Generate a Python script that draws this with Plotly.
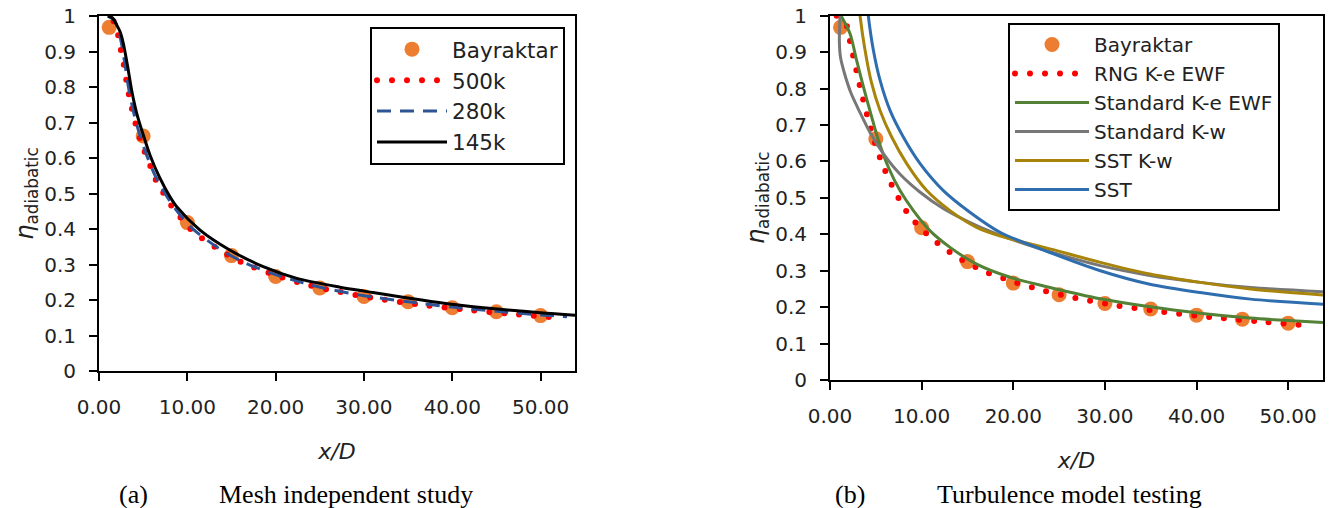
import plotly.graph_objects as go

# ---------------- panel (a): mesh independence ----------------
bay_x = [1.15, 5, 10, 15, 20, 25, 30, 35, 40, 45, 50]
bay_y = [0.968, 0.662, 0.418, 0.325, 0.266, 0.234, 0.21, 0.195, 0.178, 0.167, 0.156]

m500_x = [0.7, 1.4, 2.0, 2.26, 2.68, 3.25, 3.62, 4.0, 4.45, 5.02, 5.7, 6.34, 7.2, 8.12,
          10.4, 13.25, 16.27, 19.6, 22.95, 26.2, 31.4, 36.4, 41.4, 46.5, 52.5]
m500_y = [1.02, 0.995, 0.97, 0.928, 0.881, 0.796, 0.751, 0.71, 0.67, 0.627, 0.585, 0.543, 0.505, 0.468,
          0.399, 0.347, 0.305, 0.273, 0.247, 0.228, 0.204, 0.187, 0.173, 0.1615, 0.149]

m280_x = [1.0, 1.8, 2.4, 2.9, 3.4, 4.1, 5.1, 6.4, 8.2, 10.5, 13.3, 16.3, 19.6, 23.0, 26.2,
          30, 35, 40, 45, 50, 53]
m280_y = [1.0, 0.985, 0.94, 0.87, 0.79, 0.71, 0.628, 0.548, 0.472, 0.403, 0.35, 0.307, 0.275, 0.249, 0.23,
          0.212, 0.195, 0.18, 0.168, 0.158, 0.153]

m145_x = [1.0, 1.5, 2.0, 2.4, 2.75, 3.25, 3.7, 4.27, 4.95, 5.78, 6.83, 8.04, 8.8, 11.44, 14.8,
          18.6, 22.4, 27.3, 30, 39.9, 50, 53.9]
m145_y = [1.0, 0.995, 0.975, 0.955, 0.923, 0.857, 0.79, 0.726, 0.67, 0.608, 0.547, 0.491, 0.463, 0.397, 0.341,
          0.294, 0.261, 0.236, 0.225, 0.188, 0.164, 0.157]

# ---------------- panel (b): turbulence models ----------------
rng_x = [0.73, 1.3, 1.8, 2.2, 3.3, 4.55, 5.6, 7.0, 8.7, 11.1, 13.8, 16.7, 20.0, 23.2, 26.4,
         31.4, 36.4, 41.4, 46.5, 51.5]
rng_y = [1.0, 0.99, 0.974, 0.928, 0.803, 0.681, 0.600, 0.522, 0.450, 0.389, 0.339, 0.300, 0.270, 0.246, 0.227,
         0.204, 0.187, 0.173, 0.1615, 0.1505]

ske_x = [1.2, 2.18, 2.9, 3.64, 4.55, 5.28, 6.37, 7.64, 9.1, 10.9, 13.1, 16.0, 19.65, 24.0, 29.5,
         34.9, 40.4, 45.85, 50, 53.8]
ske_y = [1.0, 0.951, 0.878, 0.805, 0.722, 0.658, 0.584, 0.52, 0.465, 0.41, 0.364, 0.318, 0.282, 0.254, 0.223,
         0.201, 0.1835, 0.170, 0.163, 0.158]

skw_x = [1.1, 1.02, 1.15, 1.6, 2.3, 3.3, 4.4, 5.8, 7.6, 9.8, 12.4, 16.0, 19.6, 24.0, 29.5,
         34.9, 40.4, 45.9, 53.8]
skw_y = [1.0, 0.93, 0.885, 0.84, 0.787, 0.733, 0.678, 0.622, 0.566, 0.516, 0.47, 0.424, 0.388, 0.352, 0.314,
         0.287, 0.268, 0.254, 0.242]

sstkw_x = [3.1, 3.28, 3.82, 4.55, 5.46, 6.73, 8.37, 10.56, 13.1, 16.0, 18.6, 24.0, 29.5, 34.9, 40.4, 45.9, 53.8]
sstkw_y = [1.05, 1.0, 0.906, 0.814, 0.74, 0.667, 0.594, 0.52, 0.465, 0.419, 0.395, 0.36, 0.323, 0.291, 0.268,
           0.25, 0.233]

sst_x = [4.0, 4.18, 4.73, 5.46, 6.55, 8.0, 9.83, 12.37, 15.3, 18.6, 24.0, 29.5, 34.9, 40.4, 45.9, 53.8]
sst_y = [1.05, 1.0, 0.906, 0.823, 0.74, 0.667, 0.594, 0.52, 0.46, 0.405, 0.35, 0.30, 0.263, 0.24, 0.222, 0.208]

x_ticks = [0, 10, 20, 30, 40, 50]
y_ticks = [0, 0.1, 0.2, 0.3, 0.4, 0.5, 0.6, 0.7, 0.8, 0.9, 1.0]
y_labels = ["0", "0.1", "0.2", "0.3", "0.4", "0.5", "0.6", "0.7", "0.8", "0.9", "1"]

# ---------------- styling ----------------
W, H = 1329, 508
ORANGE = "#ED7D31"
RED = "#FF0000"
DKBLUE = "#2F5496"
GREEN = "#538135"
GRAY = "#777777"
GOLD = "#A8850A"
BLUE = "#2E6DAE"
FONT = "DejaVu Sans"
TXT = "#222222"
DOTS = "0px,15px"

fig = go.Figure()

def add(x, y, name, color, width, dash, xa, ya, legend, smooth=0.8):
    fig.add_trace(go.Scatter(x=x, y=y, name=name, mode="lines",
                             line=dict(color=color, width=width, dash=dash, shape="spline", smoothing=smooth),
                             xaxis=xa, yaxis=ya, legend=legend))

# panel a
fig.add_trace(go.Scatter(x=bay_x, y=bay_y, name="Bayraktar", mode="markers",
                         marker=dict(color=ORANGE, size=15), xaxis="x", yaxis="y", legend="legend"))
add(m500_x, m500_y, "500k", RED, 6, DOTS, "x", "y", "legend")
add(m280_x, m280_y, "280k", DKBLUE, 3, "14px,9px", "x", "y", "legend")
add(m145_x, m145_y, "145k", "black", 3, "solid", "x", "y", "legend")

# panel b
fig.add_trace(go.Scatter(x=bay_x, y=bay_y, name="Bayraktar", mode="markers",
                         marker=dict(color=ORANGE, size=15), xaxis="x2", yaxis="y2", legend="legend2"))
add(rng_x, rng_y, "RNG K-e EWF", RED, 6, DOTS, "x2", "y2", "legend2")
add(ske_x, ske_y, "Standard K-e EWF", GREEN, 3, "solid", "x2", "y2", "legend2")
add(skw_x, skw_y, "Standard K-w", GRAY, 3, "solid", "x2", "y2", "legend2")
add(sstkw_x, sstkw_y, "SST K-w", GOLD, 3, "solid", "x2", "y2", "legend2")
add(sst_x, sst_y, "SST", BLUE, 3, "solid", "x2", "y2", "legend2")

def xaxis(domain, rng, anchor):
    return dict(domain=domain, range=rng, anchor=anchor, tickvals=x_ticks, tickformat=".2f",
                showline=True, linecolor="black", linewidth=2, mirror=True, automargin=False,
                ticks="outside", ticklen=8, tickwidth=2, tickcolor="black",
                ticklabelstandoff=9, showgrid=False, zeroline=False,
                tickfont=dict(family=FONT, size=20, color=TXT),
                title=dict(text="<i>x/D</i>", font=dict(family=FONT, size=22, color=TXT), standoff=26))

def yaxis(domain, anchor):
    return dict(domain=domain, range=[0, 1], anchor=anchor, tickvals=y_ticks, ticktext=y_labels,
                showline=True, linecolor="black", linewidth=2, mirror=True, automargin=False,
                ticks="outside", ticklen=8, tickwidth=2, tickcolor="black",
                ticklabelstandoff=9, showgrid=False, zeroline=False,
                tickfont=dict(family=FONT, size=20, color=TXT),
                title=dict(text="<i>η</i><sub>adiabatic</sub>", font=dict(family=FONT, size=24, color=TXT),
                           standoff=4))

cap_font = dict(family="Liberation Serif", size=26, color="black")

fig.update_layout(
    template="none",
    width=W, height=H, margin=dict(l=0, r=0, t=0, b=0, autoexpand=False),
    paper_bgcolor="white", plot_bgcolor="white", showlegend=True,
    xaxis=xaxis([99 / W, 575 / W], [0, 53.9], "y"),
    yaxis=yaxis([(H - 371) / H, (H - 16) / H], "x"),
    xaxis2=xaxis([830 / W, 1323 / W], [0, 53.8], "y2"),
    yaxis2=yaxis([(H - 380) / H, (H - 15.7) / H], "x2"),
    legend=dict(x=370 / W, y=1 - 26.7 / H, xanchor="left", yanchor="top",
                bordercolor="black", borderwidth=2, bgcolor="white", itemwidth=70,
                font=dict(family=FONT, size=21.5, color=TXT), tracegroupgap=0),
    legend2=dict(x=1008 / W, y=1 - 23 / H, xanchor="left", yanchor="top",
                 bordercolor="black", borderwidth=2, bgcolor="white", itemwidth=74,
                 font=dict(family=FONT, size=20, color=TXT), tracegroupgap=0),
    annotations=[
        dict(text="(a)", x=133 / W, y=1 - 494 / H, xref="paper", yref="paper", showarrow=False,
             xanchor="center", yanchor="middle", font=cap_font),
        dict(text="Mesh independent study", x=217 / W, y=1 - 494 / H, xref="paper", yref="paper",
             showarrow=False, xanchor="left", yanchor="middle", font=cap_font),
        dict(text="(b)", x=850 / W, y=1 - 494 / H, xref="paper", yref="paper", showarrow=False,
             xanchor="center", yanchor="middle", font=cap_font),
        dict(text="Turbulence model testing", x=935 / W, y=1 - 494 / H, xref="paper", yref="paper",
             showarrow=False, xanchor="left", yanchor="middle", font=cap_font),
    ],
)

post = """
(function(){
  document.documentElement.style.margin = '0';
  document.body.style.margin = '0';
  document.body.style.padding = '0';
  document.body.style.overflow = 'hidden';
  function fix(){
    document.querySelectorAll('path.js-line').forEach(function(p){
      var d = p.style.strokeDasharray || '';
      if (d.replace(/\\s/g,'').indexOf('0px,') === 0) { p.style.strokeLinecap = 'round'; }
    });
  }
  fix();
  var gd = document.getElementById('{plot_id}');
  if (gd && gd.on) { gd.on('plotly_afterplot', fix); }
})();
"""

fig.write_html("out.html", post_script=post, config={"displayModeBar": False})
